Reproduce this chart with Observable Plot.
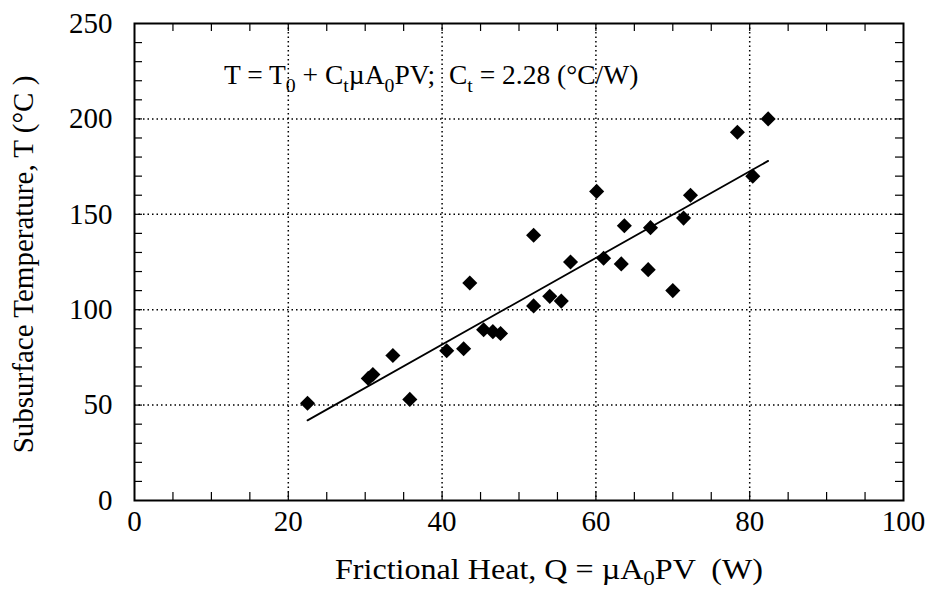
<!DOCTYPE html>
<html>
<head>
<meta charset="utf-8">
<script src="https://cdn.jsdelivr.net/npm/d3@7"></script>
<script src="https://cdn.jsdelivr.net/npm/@observablehq/plot@0.6"></script>
<style>
  html, body { margin: 0; padding: 0; background: #fff; }
  #chart { width: 927px; height: 593px; }
  #chart svg, #chart svg text, #chart svg tspan { font-family: "Liberation Serif", "Times New Roman", Times, serif !important; }
  #chart svg g[aria-label="x-axis tick label"] text,
  #chart svg g[aria-label="y-axis tick label"] text { font-size: 29px !important; }
</style>
</head>
<body>
<div id="chart"></div>
<script>
// Frictional heat Q (W) and subsurface temperature T (°C)
const heatQ = [22.5, 30.4, 31.0, 33.6, 35.8, 40.6, 42.8, 43.6, 45.4, 46.6, 47.6,
               51.9, 51.9, 54.0, 55.5, 56.7, 60.1, 61.0, 63.7, 63.3, 66.8, 67.1,
               70.0, 71.4, 72.3, 78.4, 80.4, 82.4];
const tempT = [51, 64, 66, 76, 53, 78.5, 79.5, 114, 89.5, 88.5, 87.5,
               139, 102, 107, 104.5, 125, 162, 127, 144, 124, 121, 143,
               110, 148, 160, 193, 170, 200];

// Fitted line end points
const fitQ = [22.5, 82.4];
const fitT = [42, 178];

// Axis ticks
const xMajorTicks = [0, 20, 40, 60, 80, 100];
const yMajorTicks = [0, 50, 100, 150, 200, 250];
const xGridTicks = [20, 40, 60, 80];
const yGridTicks = [50, 100, 150, 200];
const xMinorTicks = d3.range(5, 100, 5);
const yMinorTicks = d3.range(10, 250, 10);

// Annotation anchor (data coordinates)
const noteQ = [11.7];
const noteT = [218];

const points = heatQ.map((q, i) => ({q, t: tempT[i]}));
const fit = fitQ.map((q, i) => ({q, t: fitT[i]}));

const W = 927, H = 593, mL = 134, mR = 24, mT = 23, mB = 93;
const innerW = W - mL - mR, innerH = H - mT - mB;
const tickLen = 8;

const chart = Plot.plot({
  width: W, height: H,
  marginLeft: mL, marginRight: mR, marginTop: mT, marginBottom: mB,
  style: {fontSize: "29px", color: "black", background: "white"},
  x: {domain: [0, 100]},
  y: {domain: [0, 250]},
  marks: [
    Plot.ruleX(xGridTicks, {stroke: "black", strokeWidth: 1.5, strokeDasharray: "1.5,3"}),
    Plot.ruleY(yGridTicks, {stroke: "black", strokeWidth: 1.5, strokeDasharray: "1.5,3"}),
    Plot.ruleX(xMinorTicks, {stroke: "black", strokeWidth: 1.2, insetTop: innerH - tickLen}),
    Plot.ruleX(xMinorTicks, {stroke: "black", strokeWidth: 1.2, insetBottom: innerH - tickLen}),
    Plot.ruleY(yMinorTicks, {stroke: "black", strokeWidth: 1.2, insetRight: innerW - tickLen}),
    Plot.ruleY(yMinorTicks, {stroke: "black", strokeWidth: 1.2, insetLeft: innerW - tickLen}),
    Plot.frame({stroke: "black", strokeWidth: 2}),
    Plot.axisX({ticks: xMajorTicks, tickSize: 0, tickPadding: 10, label: null, fontSize: 29}),
    Plot.axisY({ticks: yMajorTicks, tickSize: 0, tickPadding: 22, label: null, fontSize: 29}),
    Plot.line(fit, {x: "q", y: "t", stroke: "black", strokeWidth: 1.8}),
    Plot.dot(points, {x: "q", y: "t", symbol: "diamond2", fill: "black", stroke: "none", r: 6.8})
  ]
});
document.getElementById("chart").append(chart);

const svg = d3.select(chart);
const xs = chart.scale("x"), ys = chart.scale("y");

function rich(sel, parts, size, shift) {
  let shifted = 0;
  parts.forEach(p => {
    const sub = Array.isArray(p);
    const ts = sel.append("tspan").text(sub ? p[0] : p);
    if (sub) {
      ts.attr("dy", size * shift).attr("font-size", size * 0.72);
      shifted = size * shift;
    } else if (shifted) {
      ts.attr("dy", -shifted);
      shifted = 0;
    }
  });
}

// annotation
const note = svg.append("text")
  .attr("x", xs.apply(noteQ[0])).attr("y", ys.apply(noteT[0]))
  .attr("text-anchor", "start")
  .attr("font-size", 27.5).attr("fill", "black")
  .style("white-space", "pre");
rich(note, ["T = T", ["0"], " + C", ["t"], "\u00b5A", ["0"], "PV;  C", ["t"], " = 2.28 (\u00b0C/W)"], 27.5, 0.3);

// x axis label
const xl = svg.append("text")
  .attr("x", 335).attr("y", H - 14)
  .attr("text-anchor", "start")
  .attr("font-size", 29).attr("fill", "black")
  .attr("textLength", 428).attr("lengthAdjust", "spacingAndGlyphs")
  .style("white-space", "pre");
rich(xl, ["Frictional Heat, Q = \u00b5A", ["0"], "PV  (W)"], 29, 0.22);

// y axis label
svg.append("text")
  .attr("transform", `translate(33, ${mT + innerH / 2 + 3}) rotate(-90)`)
  .attr("text-anchor", "middle")
  .attr("font-size", 29).attr("fill", "black")
  .style("white-space", "pre")
  .text("Subsurface Temperature, T (\u00b0C )");
</script>
</body>
</html>
